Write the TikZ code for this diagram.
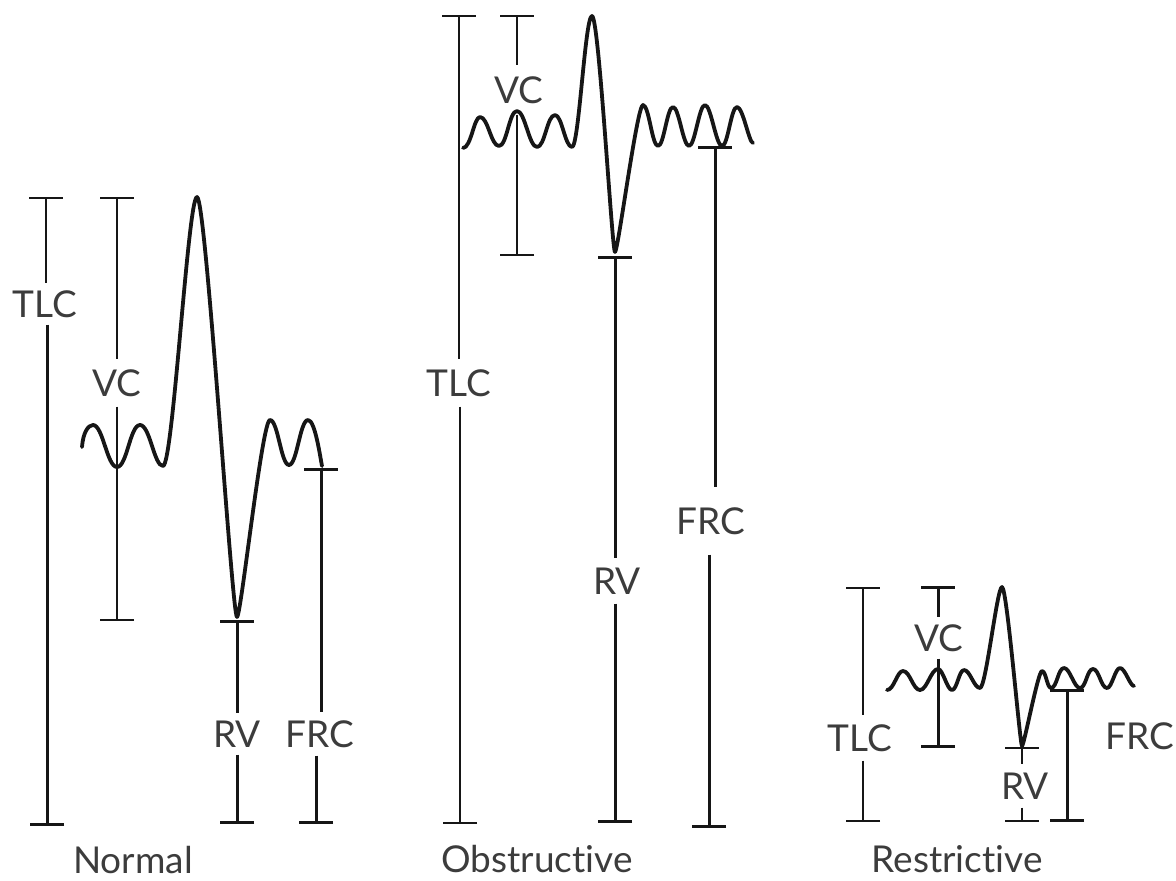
\documentclass[tikz,border=0pt]{standalone}
\usepackage{fontspec}
\newfontfamily\pftfont[Ligatures=NoCommon]{Lato}
\usepackage{tikz}
\usetikzlibrary{arrows.meta}
\definecolor{pftink}{HTML}{161616}
\definecolor{pfttext}{HTML}{3C3C3C}
\tikzset{
  lbl/.style={font=\pftfont\fontsize{37}{40}\selectfont,text=pfttext,
    text height=27pt,text depth=0pt,inner xsep=2pt},
  title/.style={font=\pftfont\fontsize{37}{40}\selectfont,text=pfttext,
    anchor=base,inner sep=0pt},
  thinbar/.style={draw=pftink,line width=2pt},
  thickbar/.style={draw=pftink,line width=3pt},
  wave/.style={draw=pftink,line width=3.8pt,line cap=round,line join=round},
  topcap/.style={arrows={Bar[width=34pt]-}},
  botcap/.style={arrows={-Bar[width=34pt]}},
  bothcap/.style={arrows={Bar[width=34pt]-Bar[width=34pt]}},
}

\begin{document}
\begin{tikzpicture}[x=1pt,y=-1pt]
  \useasboundingbox (0,0) rectangle (1176,881);

  \foreach \id/\txt/\xt/\yt/\xl/\yl/\xb/\yb/\up/\lo/\gap in {%
    nTLC/TLC/46/197/45/304/47/826/thinbar/thickbar/7pt,
    nVC/VC/117/197/117/383/117/621/thinbar/thinbar/10pt,
    nRV/RV/237/620/237/734/237/824/thickbar/thickbar/7pt,
    nFRC/FRC/321/468/320/734/316/824/thickbar/thickbar/8pt,
    oTLC/TLC/459/15/459/383/460/824/thinbar/thinbar/10pt,
    oVC/VC/517/15/519/90/517/256/thinbar/thinbar/11pt,
    oRV/RV/615/256/617/581/615/823/thickbar/thickbar/9pt,
    oFRC/FRC/715/146/711/521/709/828/thickbar/thickbar/20pt,
    rTLC/TLC/863/587/860/738/863/822/thinbar/thinbar/9pt,
    rVC/VC/938/586/939/638/938/748/thickbar/thickbar/7pt,
    rRV/RV/1022/747/1025/786/1022/822/thinbar/thinbar/8pt}
  {
    \coordinate (\id top) at (\xt,\yt);
    \coordinate (\id bot) at (\xb,\yb);
    \node[lbl,inner ysep=\gap] (\id) at (\xl,\yl) {\txt};
    \draw[\up,topcap] (\id top) -- (\id top |- \id.north);
    \draw[\lo,botcap] (\id bot |- \id.south) -- (\id bot);
  }

  \coordinate (rFRC top) at (1067,689);
  \coordinate (rFRC bot) at (1067,822);
  \draw[thickbar,bothcap] (rFRC top) -- (rFRC bot);
  \node[lbl] (rFRC) at (1140,736) {FRC};

  % spirometer traces
  \draw[wave] (82,447) .. controls +(1,-14) and +(-5,0) .. (93,425)
    .. controls +(10,0) and +(-10,0) .. (117,467)
    .. controls +(10,0) and +(-10,0) .. (140,425)
    .. controls +(10,0) and +(-9,0) .. (163,466)
    .. controls +(10,0) and +(-9,0) .. (197,197)
    .. controls +(9,0) and +(-5,0) .. (237,617)
    .. controls +(4,0) and +(-8,0) .. (270,420)
    .. controls +(8,0) and +(-8,0) .. (289,465)
    .. controls +(8,0) and +(-8,0) .. (308,420)
    .. controls +(7,0) and +(-2,-10) .. (322,466);
  \draw[wave] (463,148) .. controls +(8,0) and +(-6,0) .. (480,117)
    .. controls +(8,0) and +(-8,0) .. (499,146)
    .. controls +(8,0) and +(-8,0) .. (517,111)
    .. controls +(8,0) and +(-8,0) .. (537,147)
    .. controls +(8,0) and +(-8,0) .. (555,115)
    .. controls +(7,0) and +(-7,0) .. (572,147)
    .. controls +(7,0) and +(-7,0) .. (592,16)
    .. controls +(7,0) and +(-3,0) .. (615,252)
    .. controls +(3,0) and +(-6,0) .. (643,105)
    .. controls +(6,0) and +(-6,0) .. (658,146)
    .. controls +(6,0) and +(-6,0) .. (673,107)
    .. controls +(6,0) and +(-6,0) .. (689,146)
    .. controls +(6,0) and +(-6,0) .. (705,105)
    .. controls +(6,0) and +(-6,0) .. (722,146)
    .. controls +(6,0) and +(-6,0) .. (737,107)
    .. controls +(6,0) and +(-4,0) .. (753,143);
  \draw[wave] (887,690) .. controls +(7,0) and +(-6,0) .. (903,671)
    .. controls +(7,0) and +(-7,0) .. (920,690)
    .. controls +(7,0) and +(-7,0) .. (938,669)
    .. controls +(5,0) and +(-5,0) .. (952,690)
    .. controls +(5,0) and +(-5,0) .. (964,670)
    .. controls +(6,0) and +(-6,0) .. (980,688)
    .. controls +(6,0) and +(-5,0) .. (1002,587)
    .. controls +(5,0) and +(-2,0) .. (1022,746)
    .. controls +(2,0) and +(-4,0) .. (1042,671)
    .. controls +(4,0) and +(-4,0) .. (1051,688)
    .. controls +(6,0) and +(-6,0) .. (1064,668)
    .. controls +(6,0) and +(-6,0) .. (1080,688)
    .. controls +(6,0) and +(-6,0) .. (1093,669)
    .. controls +(6,0) and +(-6,0) .. (1107,688)
    .. controls +(5,0) and +(-5,0) .. (1120,668)
    .. controls +(5,0) and +(-4,0) .. (1134,686);

  \node[title] (nTitle) at (133,873) {Normal};
  \node[title] (oTitle) at (537,872) {Obstructive};
  \node[title] (rTitle) at (957,872) {Restrictive};
\end{tikzpicture}
\end{document}
